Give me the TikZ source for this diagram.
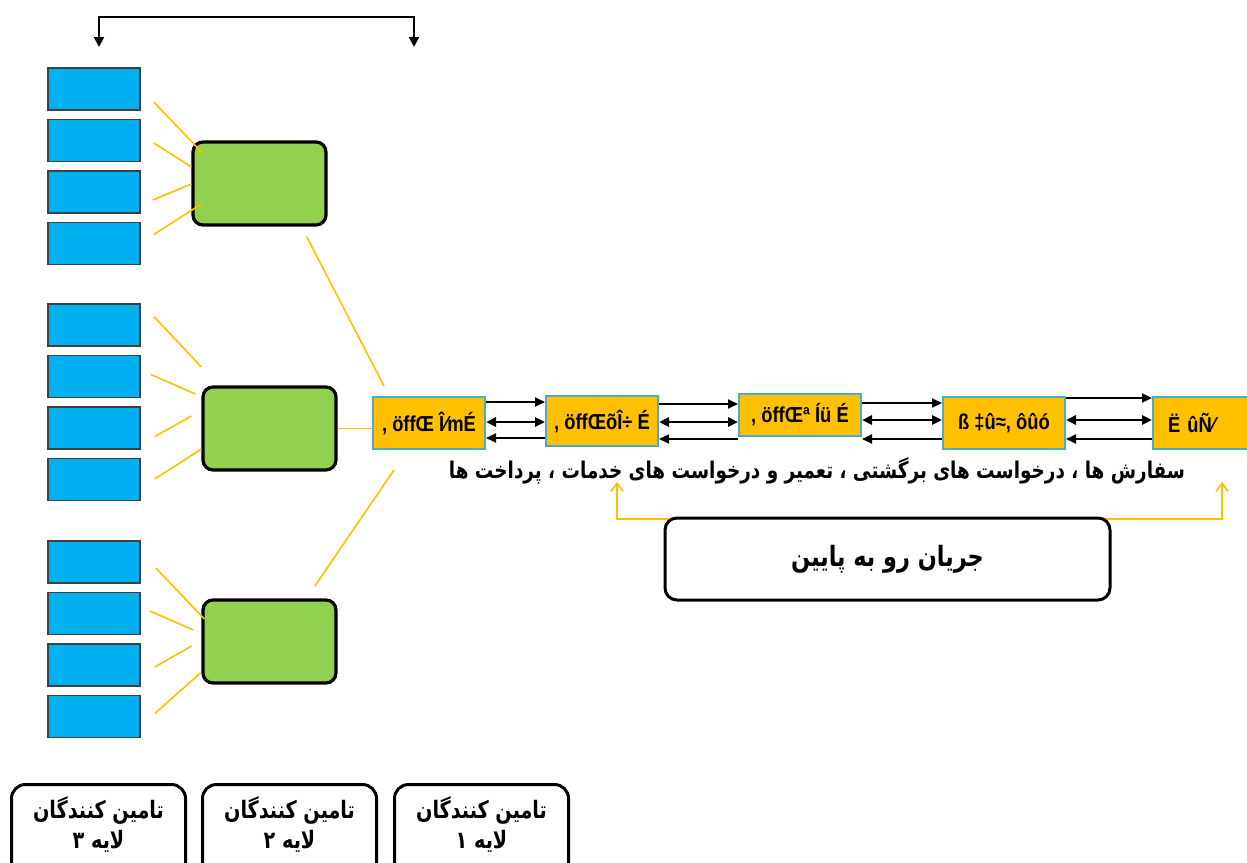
\documentclass[tikz,border=0pt]{standalone}
\usepackage{fontspec}
\setmainfont{Liberation Sans}
\newfontfamily\arabicfont[Script=Arabic,FakeStretch=0.8]{DejaVu Sans}
\newfontfamily\narrowfont[FakeStretch=0.85]{Liberation Sans}
\TeXXeTstate=1
\usetikzlibrary{arrows.meta}

\definecolor{skyblue}{HTML}{00B0F0}
\definecolor{leafgreen}{HTML}{92D050}
\definecolor{amber}{HTML}{FFC000}
\definecolor{rimteal}{HTML}{4BACC6}

\tikzset{
  vendor/.style={draw=black!75, line width=0.8pt, fill=skyblue, minimum width=46pt, minimum height=21pt, inner sep=0pt},
  hub/.style={draw=black, line width=1.6pt, fill=leafgreen, rounded corners=5pt, minimum width=66.5pt, minimum height=41.5pt},
  stage/.style={draw=rimteal, line width=1pt, fill=amber, minimum height=26pt, inner sep=0pt, font=\narrowfont\bfseries\fontsize{10.8}{12}\selectfont},
  tier/.style={draw=black, line width=1.5pt, fill=white, rounded corners=7pt, minimum width=87pt, anchor=north, inner ysep=6pt, text depth=30pt, align=center, font=\arabicfont\bfseries\fontsize{12}{15}\selectfont},
  feed/.style={amber, line width=0.8pt},
  flow/.style={line width=0.9pt, -{Triangle[length=5pt,width=4.5pt]}},
  twoway/.style={line width=1.4pt, {Triangle[length=5pt,width=4.5pt]}-{Triangle[length=5pt,width=4.5pt]}}
}

\begin{document}
\begin{tikzpicture}[x=0.5pt,y=-0.5pt]
\useasboundingbox (0,0) rectangle (1247,862);

% suppliers, three columns of four
\foreach \g/\y in {1/89,2/325,3/562}
  \foreach \i in {1,...,4}
    \node[vendor] (b\g\i) at (94,\y+51.5*\i-51.5) {};

\node[hub] (g1) at (259.5,183.5) {};
\node[hub] (g2) at (269.5,428.5) {};
\node[hub] (g3) at (269.5,641.5) {};

% the chain
\node[stage, minimum width=56pt] (o1) at (429,423) {, öffŒ Î⁄mÉ};
\node[stage, minimum width=56pt, minimum height=25pt] (o2) at (602,421) {, öffŒõÎ÷ É};
\node[stage, minimum width=61pt, minimum height=21pt] (o3) at (800,415) {, öffŒª Íü É};
\node[stage, minimum width=61pt] (o4) at (1004,423) {ß ‡û≈, ôûó};
\node[stage, anchor=west, text width=45pt, align=left, inner xsep=7.5pt] (o5) at (1152,423) {Ë ûÑ⁄};

\foreach \a/\b/\t/\m/\u in {o1/o2/402/422/438, o2/o3/404/422/439, o3/o4/403/420/439, o4/o5/398/420/439} {
  \draw[flow] (\a.east |- 0,\t) -- (\b.west |- 0,\t);
  \draw[twoway] (\a.east |- 0,\m) -- (\b.west |- 0,\m);
  \draw[flow] (\b.west |- 0,\u) -- (\a.east |- 0,\u);
}

% yellow feeds into the hubs
\foreach \i/\p/\q in {1/{13,13}/{11,-30.5}, 2/{13,2.5}/{0,-16.5}, 3/{12,8}/{0,0.5}, 4/{13,-9}/{10,20.5}}
  \draw[feed] ([shift={(\p)}]b1\i.east) -- ([shift={(\q)}]g1.west);
\foreach \i/\p/\q in {1/{13,-8.5}/{0,-61.5}, 2/{10,-2}/{-6,-34.5}, 3/{14,8.5}/{-10,-12.5}, 4/{14,-0.5}/{0,20.5}}
  \draw[feed] ([shift={(\p)}]b2\i.east) -- ([shift={(\q)}]g2.west);
\foreach \i/\p/\q in {1/{15,6}/{3,-22.5}, 2/{9,-2.5}/{-8,-11.5}, 3/{14,2}/{-10,4.5}, 4/{14,-3}/{-1,31.5}}
  \draw[feed] ([shift={(\p)}]b3\i.east) -- ([shift={(\q)}]g3.west);

\draw[feed] ([shift={(-21,10)}]g1.south east) -- ([shift={(12,-10)}]o1.north west);
\draw[feed] (g2.east) -- (g2.east -| o1.west);
\draw[feed] ([shift={(-23,-12)}]g3.north east) -- ([shift={(22,20)}]o1.south west);

\node[font=\arabicfont\bfseries\fontsize{11.5}{13}\selectfont] (cap) at (817,471)
  {\beginR سفارش ها ، درخواست های برگشتی ، تعمیر و درخواست های خدمات ، پرداخت ها\endR};

\coordinate (tipa) at (617,482);
\coordinate (tipb) at (1222,482);
\coordinate (rail) at (900,519);
\draw[feed, {Straight Barb[length=4pt,width=6pt]}-{Straight Barb[length=4pt,width=6pt]}] (tipa) |- (rail) -| (tipb);

\node[draw, line width=1.5pt, rounded corners=6pt, fill=white, minimum width=222.5pt, minimum height=41pt,
  font=\arabicfont\bfseries\fontsize{14}{17}\selectfont] (down) at (887.5,559) {\beginR جریان رو به پایین\endR};

% top bracket
\coordinate (t3) at (99,47);
\coordinate (t2) at (414,47);
\coordinate (span) at (256,17);
\draw[line width=1pt, {Triangle[length=5pt,width=5pt]}-{Triangle[length=5pt,width=5pt]}] (t3) |- (span) -| (t2);

% tier labels
\foreach \n/\x/\d in {3/98.5/۳, 2/289.5/۲, 1/481.5/۱}
  \node[tier] (l\n) at (\x,783) {\beginR تامین کنندگان\endR\\\beginR لایه \d\endR};
\end{tikzpicture}
\end{document}
